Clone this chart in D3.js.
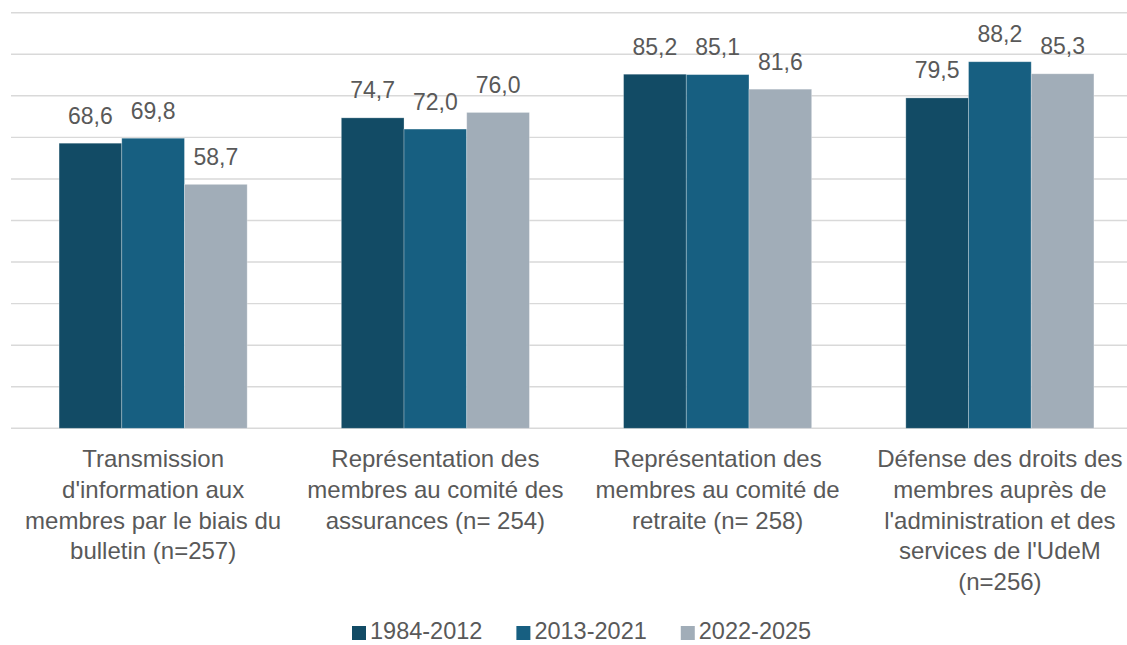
<!DOCTYPE html>
<html>
<head>
<meta charset="utf-8">
<script src="https://cdn.jsdelivr.net/npm/d3@7"></script>
<style>
  html, body { margin: 0; padding: 0; background: #fff; }
  svg { display: block; font-family: "Liberation Sans", Arial, sans-serif; }
</style>
</head>
<body>
<svg id="chart" width="1127" height="645"></svg>
<script>
// Categories (each label pre-split into its wrapped lines)
const categories = [
  "Transmission d'information aux membres par le biais du bulletin (n=257)",
  "Représentation des membres au comité des assurances (n= 254)",
  "Représentation des membres au comité de retraite (n= 258)",
  "Défense des droits des membres auprès de l'administration et des services de l'UdeM (n=256)"
];
const categoryLines = [
  ["Transmission", "d'information aux", "membres par le biais du", "bulletin (n=257)"],
  ["Représentation des", "membres au comité des", "assurances (n= 254)"],
  ["Représentation des", "membres au comité de", "retraite (n= 258)"],
  ["Défense des droits des", "membres auprès de", "l'administration et des", "services de l'UdeM", "(n=256)"]
];
const seriesNames = ["1984-2012", "2013-2021", "2022-2025"];
const values1984 = [68.6, 74.7, 85.2, 79.5];
const values2013 = [69.8, 72.0, 85.1, 88.2];
const values2022 = [58.7, 76.0, 81.6, 85.3];
const gridTicks = [0, 10, 20, 30, 40, 50, 60, 70, 80, 90, 100];
const colors = ["#124b65", "#175f81", "#a1adb8"];

const seriesValues = [values1984, values2013, values2022];
const svg = d3.select("#chart");
const textColor = "#595959";
const fmt = v => d3.format(".1f")(v).replace(".", ",");

const x0 = d3.scaleBand().domain(categories).range([12, 1141]).paddingInner(0).paddingOuter(0);
const barW = 62.7;
const x1 = d3.scaleBand().domain(seriesNames).range([0, barW * 3]);
const groupOffset = (x0.bandwidth() - barW * 3) / 2;
const y = d3.scaleLinear().domain([0, 100]).range([428.3, 12.7]);

// Horizontal gridlines
svg.append("g").selectAll("line").data(gridTicks).join("line")
  .attr("x1", 11).attr("x2", 1127)
  .attr("y1", d => y(d)).attr("y2", d => y(d))
  .attr("stroke", "#d9d9d9").attr("stroke-width", 1.4);

// Bars with value labels
const groups = svg.append("g").selectAll("g").data(categories).join("g")
  .attr("transform", c => `translate(${x0(c) + groupOffset},0)`);

groups.each(function(c, ci) {
  const g = d3.select(this);
  seriesNames.forEach((s, si) => {
    const v = seriesValues[si][ci];
    g.append("rect")
      .attr("x", x1(s)).attr("width", x1.bandwidth())
      .attr("y", y(v)).attr("height", y(0) - y(v))
      .attr("fill", colors[si])
      .attr("stroke", "#ffffff").attr("stroke-opacity", 0.35).attr("stroke-width", 0.8);
    g.append("text")
      .attr("x", x1(s) + x1.bandwidth() / 2)
      .attr("y", y(v) - 19.5)
      .attr("text-anchor", "middle")
      .attr("font-size", 23).attr("fill", textColor)
      .text(fmt(v));
  });
});

// Category labels
const labels = svg.append("g").selectAll("text").data(categories).join("text")
  .attr("text-anchor", "middle").attr("font-size", 24).attr("fill", textColor);
labels.each(function(c, ci) {
  const t = d3.select(this);
  categoryLines[ci].forEach((line, li) => {
    t.append("tspan")
      .attr("x", x0(c) + x0.bandwidth() / 2)
      .attr("y", 467 + li * 30.8)
      .text(line);
  });
});

// Legend
const legend = svg.append("g");
let lx = 352;
seriesNames.forEach((s, si) => {
  legend.append("rect").attr("x", lx).attr("y", 626).attr("width", 14).attr("height", 14).attr("fill", colors[si]);
  const t = legend.append("text").attr("x", lx + 18).attr("y", 639)
    .attr("font-size", 23.5).attr("fill", textColor).text(s);
  lx += 18 + t.node().getComputedTextLength() + 34;
});
</script>
</body>
</html>
